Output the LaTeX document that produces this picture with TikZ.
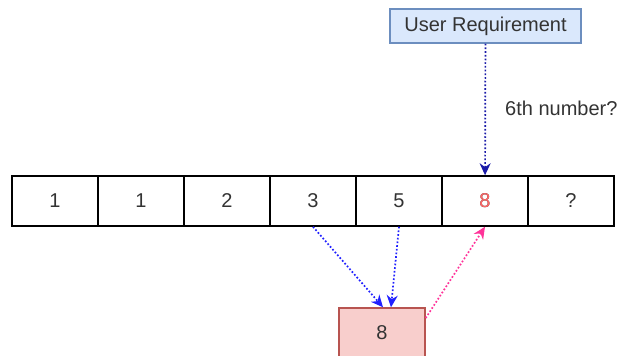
\documentclass[tikz,border=0pt]{standalone}
\usepackage{fontspec}
\setmainfont{Liberation Sans}
\usetikzlibrary{arrows.meta,positioning}
\definecolor{reqfill}{HTML}{DAE8FC}
\definecolor{reqline}{HTML}{6C8EBF}
\definecolor{resfill}{HTML}{F8CECC}
\definecolor{resline}{HTML}{B85450}
\definecolor{askline}{HTML}{1A1AA8}
\definecolor{sumline}{HTML}{2020FF}
\definecolor{putline}{HTML}{FF3399}
\definecolor{newnum}{HTML}{FF6666}
\definecolor{txt}{HTML}{333333}

\begin{document}
\begin{tikzpicture}[x=1pt,y=-1pt]
  \tikzset{big/.style={font=\fontsize{20}{24}\selectfont,text=txt},
    cell/.style={draw,line width=1.5pt,minimum width=86pt,minimum height=50pt,inner sep=0pt,big},
    link/.style={dotted,line width=1.7pt,-{Stealth[length=12pt,width=11pt]}}}
  \useasboundingbox (0,0) rectangle (619,356);

  \node[draw=reqline,fill=reqfill,line width=1.5pt,minimum width=191pt,minimum height=34pt,inner sep=0pt,big] at (485.5,26) (req) {User Requirement};

  \foreach \v [count=\i] in {1,1,2,3,5,8,?}
    \node[cell] at (12+86*\i-43,201) (c\i) {\v};
  \node[cell,text=newnum] at (c6) {8};

  \node[cell,draw=resline,fill=resfill] at (382,333) (res) {8};
  \node[big,anchor=west,inner sep=0pt] at (505,108) (ask) {6th number?};

  \draw[link,askline] (req) -- (c6);
  \draw[link,sumline] (c4.south) -- ([xshift=1pt]res.north);
  \draw[link,sumline] (c5.south) -- ([xshift=9pt]res.north);
  \draw[link,putline] ([yshift=15pt]res.east) -- (c6.south);
\end{tikzpicture}
\end{document}
